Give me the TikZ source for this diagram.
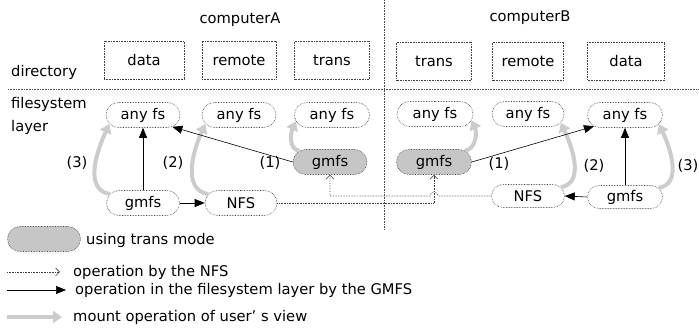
\documentclass[tikz,border=0pt]{standalone}
\usepackage{fontspec}
\setmainfont{DejaVu Sans}
\usetikzlibrary{arrows.meta,shapes.misc}
\tikzset{
  lbl/.style={font=\fontsize{14.7}{17}\selectfont, inner sep=0pt},
  dirbox/.style={lbl, draw=black!75, densely dotted, line width=0.6pt, minimum height=38pt, fill=white},
  fsbox/.style={lbl, rounded rectangle, draw=black!75, densely dotted, line width=0.6pt, minimum height=25pt, fill=white},
  transbox/.style={fsbox, fill=gray!45},
  sep/.style={draw=black!70, densely dotted, line width=0.6pt},
  blk/.style={draw=black, line width=0.6pt, -{Triangle[length=10pt,width=8pt]}},
  nfsarr/.style={draw=black!75, densely dotted, line width=0.6pt, -{Straight Barb[length=4pt,width=8pt,line width=0.6pt]}},
  mount/.style={draw=gray!40, line width=4pt, -{Triangle[length=9pt,width=12pt]}},
}
\begin{document}
\begin{tikzpicture}[x=1pt,y=1pt]
\useasboundingbox (0,0) rectangle (699,-336);
% separators
\coordinate (hl1) at (8,-89);
\coordinate (hl2) at (699,-89);
\coordinate (vl1) at (384,0);
\coordinate (vl2) at (384,-230);
\draw[sep] (hl1) -- (hl2);
\draw[sep] (vl1) -- (vl2);
% titles and side labels
\node[lbl] (compA) at (240,-20) {computerA};
\node[lbl] (compB) at (530,-18) {computerB};
\node[lbl, anchor=west] (dirl) at (11,-72) {directory};
\node[lbl, anchor=west] (fsl1) at (11,-104) {filesystem};
\node[lbl, anchor=west] (fsl2) at (11,-127) {layer};
% directory boxes
\node[dirbox, minimum width=80pt] (dA) at (144,-60) {data};
\node[dirbox, minimum width=74pt] (rA) at (239,-60) {remote};
\node[dirbox, minimum width=75pt] (tA) at (332,-60) {trans};
\node[dirbox, minimum width=75pt] (tB) at (434,-61) {trans};
\node[dirbox, minimum width=71pt] (rB) at (528,-61) {remote};
\node[dirbox, minimum width=77pt] (dB) at (626,-61) {data};
% filesystem layer
\node[fsbox, minimum width=74pt] (anyA1) at (143,-115) {any fs};
\node[fsbox, minimum width=74pt] (anyA2) at (239,-115) {any fs};
\node[fsbox, minimum width=75pt] (anyA3) at (332,-115) {any fs};
\node[fsbox, minimum width=76pt] (anyB1) at (435,-114) {any fs};
\node[fsbox, minimum width=72pt] (anyB2) at (528,-114) {any fs};
\node[fsbox, minimum width=75pt] (anyB3) at (625,-115) {any fs};
\node[transbox, minimum width=74pt] (gmfsTA) at (330,-162) {gmfs};
\node[transbox, minimum width=75pt] (gmfsTB) at (434,-162) {gmfs};
\node[fsbox, minimum width=73pt] (gmfsA) at (143,-203) {gmfs};
\node[fsbox, minimum width=72pt] (nfsA) at (241,-203) {NFS};
\node[fsbox, minimum width=73pt, minimum height=23pt] (nfsB) at (528,-196) {NFS};
\node[fsbox, minimum width=75pt, minimum height=23pt] (gmfsB) at (625,-197) {gmfs};
% mount arrows
\draw[mount] (gmfsA.165) to[out=170,in=245] (anyA1.195);
\draw[mount] (nfsA.165) to[out=170,in=245] (anyA2.195);
\draw[mount] (gmfsTA.160) to[out=170,in=245] (anyA3.190);
\draw[mount] (gmfsTB.20) to[out=10,in=-65] (anyB1.-10);
\draw[mount] (nfsB.15) to[out=10,in=-65] (anyB2.-15);
\draw[mount] (gmfsB.15) to[out=10,in=-65] (anyB3.-15);
% mount labels
\node[lbl] (l3A) at (77,-163) {(3)};
\node[lbl] (l2A) at (173,-163) {(2)};
\node[lbl] (l1A) at (270,-163) {(1)};
\node[lbl] (l1B) at (499,-164) {(1)};
\node[lbl] (l2B) at (594,-166) {(2)};
\node[lbl] (l3B) at (688,-166) {(3)};
% black arrows (filesystem layer by GMFS)
\draw[blk] (gmfsA.north) -- (anyA1.south);
\draw[blk] (gmfsA.east) -- (nfsA.west);
\draw[blk] (gmfsTA.west) -- (anyA1.-22);
\draw[blk] (gmfsTB.east) -- (anyB3.200);
\draw[blk] (gmfsB.north) -- (anyB3.south);
\draw[blk] (gmfsB.west) -- (nfsB.east);
% NFS arrows
\coordinate (hop) at (gmfsTB.south |- nfsB.west);
\draw[nfsarr] (nfsA.east) -| (gmfsTB.south);
\draw[nfsarr] (nfsB.west) -- ([xshift=4pt]hop) arc[start angle=0,end angle=180,radius=4pt] -| (gmfsTA.south);
% legend
\node[transbox, minimum width=73pt, minimum height=25pt] (lgbox) at (44,-239) {};
\node[lbl, anchor=west] (lgt1) at (86,-240) {using trans mode};
\coordinate (lg2a) at (7,-272);
\coordinate (lg2b) at (60,-272);
\draw[nfsarr] (lg2a) -- (lg2b);
\node[lbl, anchor=west] (lgt2) at (73,-272) {operation by the NFS};
\coordinate (lg3a) at (7,-290);
\coordinate (lg3b) at (66,-290);
\draw[blk] (lg3a) -- (lg3b);
\node[lbl, anchor=west] (lgt3) at (75,-290) {operation in the filesystem layer by the GMFS};
\coordinate (lg4a) at (7,-317);
\coordinate (lg4b) at (62,-317);
\draw[mount] (lg4a) -- (lg4b);
\node[lbl, anchor=west] (lgt4) at (73,-317) {mount operation of user’ s view};
\end{tikzpicture}
\end{document}
